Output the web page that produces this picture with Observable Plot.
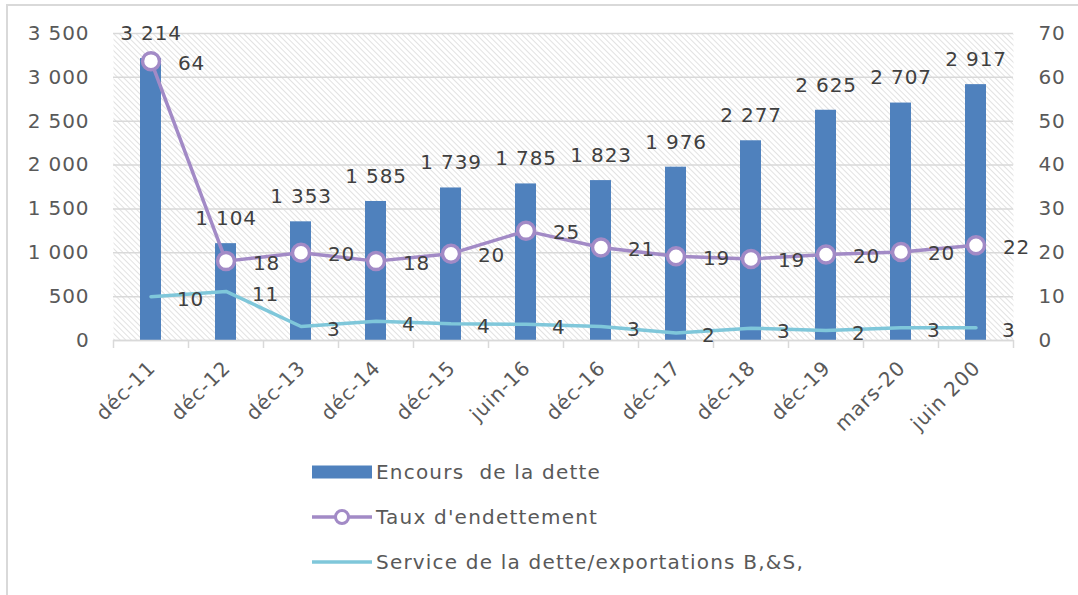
<!DOCTYPE html>
<html><head><meta charset="utf-8">
<script src="https://cdn.jsdelivr.net/npm/d3@7"></script>
<script src="https://cdn.jsdelivr.net/npm/@observablehq/plot@0.6"></script>
<style>
body{margin:0;background:#fff;font-family:"DejaVu Sans",sans-serif;overflow:hidden;width:1078px;height:595px;position:relative}
#frame{position:absolute;left:6px;top:4px;width:1100px;height:620px;border:2px solid #d9d9d9;box-sizing:border-box}
#chart{position:absolute;left:0;top:0}
#legend{position:absolute;left:312px;top:449px;color:#595959;font-size:20px;letter-spacing:1.2px}
.row{display:flex;align-items:center;height:45px;white-space:pre}
.row svg{margin-right:4px}
</style></head><body>
<div id="frame"></div>
<div id="chart"></div>
<div id="legend"></div>
<script>
const categories = ["déc-11","déc-12","déc-13","déc-14","déc-15","juin-16","déc-16","déc-17","déc-18","déc-19","mars-20","juin 200"];
const encours = [3214,1104,1353,1585,1739,1785,1823,1976,2277,2625,2707,2917];
const taux = [63.7,18.1,20.0,18.1,19.8,25.0,21.2,19.2,18.6,19.6,20.2,21.7];
const service = [10.0,11.2,3.2,4.4,3.8,3.7,3.2,1.7,2.8,2.3,2.9,2.9];
const leftTicks = [0,500,1000,1500,2000,2500,3000,3500];
const rightTicks = [0,10,20,30,40,50,60,70];
const seriesNames = ["Encours  de la dette","Taux d'endettement","Service de la dette/exportations B,&S,"];
const colors = {bar:"#4f81bd", taux:"#a28ac6", service:"#7fc7da"};

const ratio = leftTicks[leftTicks.length-1] / rightTicks[rightTicks.length-1];
const data = categories.map((c,i)=>({cat:c, enc:encours[i], taux:taux[i], service:service[i]}));
const fmtSpace = d => d3.format(",")(d).replace(/,/g," ");

const W = 1078, H = 440, mL = 113, mR = 65, mT = 33, mB = 100;
const bw = (W - mL - mR) / categories.length;

const defs = () => {
  const d = d3.create("svg:defs");
  const p = d.append("pattern").attr("id","hatch").attr("patternUnits","userSpaceOnUse")
    .attr("width",4).attr("height",4).attr("patternTransform","rotate(-45)");
  p.append("rect").attr("width",4).attr("height",4).attr("fill","#ffffff");
  p.append("line").attr("x1",0).attr("y1",0).attr("x2",0).attr("y2",4).attr("stroke","#cfcfcf").attr("stroke-width",1.2);
  return d.node();
};

const chart = Plot.plot({
  width: W, height: H,
  marginLeft: mL, marginRight: mR, marginTop: mT, marginBottom: mB,
  style: {fontFamily:"DejaVu Sans", fontSize:"20px", color:"#595959", background:"transparent", overflow:"visible", letterSpacing:"0.9px"},
  x: {type:"band", domain: categories, paddingInner:0, paddingOuter:0, axis:null, label:null},
  y: {domain:[0, leftTicks[leftTicks.length-1]], nice:false, axis:null, label:null},
  marks: [
    defs,
    Plot.frame({fill:"url(#hatch)", stroke:"none"}),
    Plot.gridY(leftTicks, {stroke:"#d9d9d9", strokeOpacity:1, strokeWidth:1.5}),
    Plot.axisY(leftTicks, {anchor:"left", label:null, tickSize:0, tickPadding:24, tickFormat: fmtSpace, fill:"#595959", fontSize:20}),
    Plot.axisY(rightTicks.map(t=>t*ratio), {anchor:"right", label:null, tickSize:0, tickPadding:25, tickFormat: d => d/ratio, fill:"#595959", fontSize:20}),
    Plot.axisX(categories, {anchor:"bottom", label:null, tickSize:8, tickFormat: () => "", dx: -bw/2, stroke:"#d9d9d9", strokeWidth:1.5}),
    Plot.axisX([categories[categories.length-1]], {anchor:"bottom", label:null, tickSize:8, tickFormat: () => "", dx: bw/2, stroke:"#d9d9d9", strokeWidth:1.5}),
    Plot.axisX(categories, {anchor:"bottom", label:null, tickSize:0, tickPadding:24, dx:1, tickRotate:-45, fill:"#595959", fontSize:20}),
    Plot.barY(data, {x:"cat", y:"enc", fill:colors.bar, insetLeft:(bw-21)/2, insetRight:(bw-21)/2}),
    Plot.ruleY([0], {stroke:"#d9d9d9", strokeWidth:1.5}),
    Plot.line(data, {x:"cat", y: d=>d.service*ratio, stroke:colors.service, strokeWidth:3.5}),
    Plot.line(data, {x:"cat", y: d=>d.taux*ratio, stroke:colors.taux, strokeWidth:3.5}),
    Plot.dot(data, {x:"cat", y: d=>d.taux*ratio, r:8.5, fill:"#ffffff", stroke:colors.taux, strokeWidth:3.5}),
    Plot.text(data, {x:"cat", y:"enc", text: d=>fmtSpace(d.enc), dy:-25, fill:"#404040", fontSize:20}),
    Plot.text(data, {x:"cat", y: d=>d.taux*ratio, text: d=>d3.format(".0f")(d.taux), textAnchor:"start", dx:27, dy:2, fill:"#404040", fontSize:20}),
    Plot.text(data, {x:"cat", y: d=>d.service*ratio, text: d=>d3.format(".0f")(d.service), textAnchor:"start", dx:26, dy:3, fill:"#404040", fontSize:20})
  ]
});
document.getElementById("chart").appendChild(chart);

const legend = d3.select("#legend");
const swatches = [
  s => s.append("rect").attr("x",0).attr("y",3.5).attr("width",60).attr("height",13).attr("fill",colors.bar),
  s => { s.append("line").attr("x1",0).attr("x2",60).attr("y1",10).attr("y2",10).attr("stroke",colors.taux).attr("stroke-width",3.5);
         s.append("circle").attr("cx",30).attr("cy",10).attr("r",6.5).attr("fill","#fff").attr("stroke",colors.taux).attr("stroke-width",3); },
  s => s.append("line").attr("x1",0).attr("x2",60).attr("y1",10).attr("y2",10).attr("stroke",colors.service).attr("stroke-width",3.5)
];
seriesNames.forEach((n,i)=>{
  const row = legend.append("div").attr("class","row");
  const s = row.append("svg").attr("width",60).attr("height",20);
  swatches[i](s);
  row.append("span").text(n);
});
</script>
</body></html>
